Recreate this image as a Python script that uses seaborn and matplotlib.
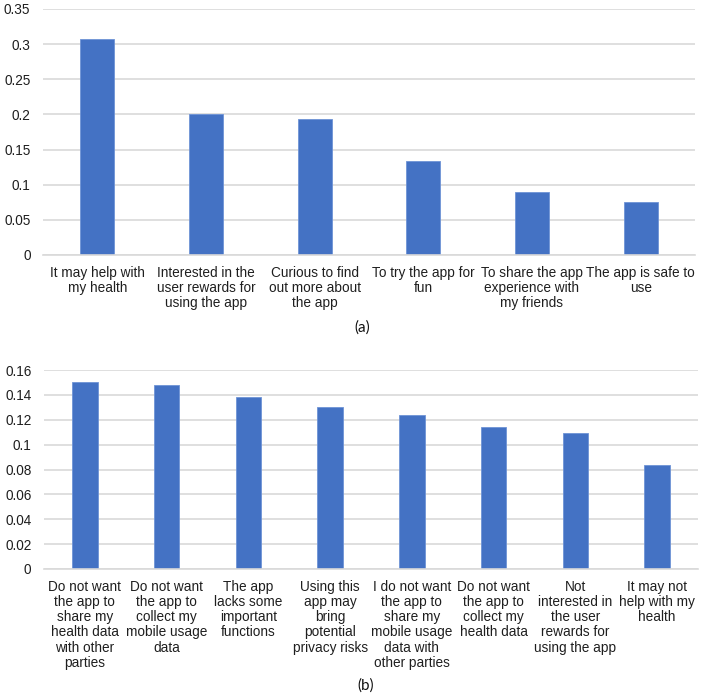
import matplotlib
matplotlib.use("Agg")
import matplotlib.pyplot as plt
import seaborn as sns
import pandas as pd

sns.set_theme(style="white")
plt.rcParams['font.family'] = ['Liberation Sans', 'DejaVu Sans']

cats_a = ["It may help with\nmy health",
          "Interested in the\nuser rewards for\nusing the app",
          "Curious to find\nout more about\nthe app",
          "To try the app for\nfun",
          "To share the app\nexperience with\nmy friends",
          "The app is safe to\nuse"]
vals_a = [0.308, 0.200, 0.194, 0.134, 0.090, 0.076]
yticks_a = [0, 0.05, 0.1, 0.15, 0.2, 0.25, 0.3, 0.35]
ylabels_a = ["0", "0.05", "0.1", "0.15", "0.2", "0.25", "0.3", "0.35"]

cats_b = ["Do not want\nthe app to\nshare my\nhealth data\nwith other\nparties",
          "Do not want\nthe app to\ncollect my\nmobile usage\ndata",
          "The app\nlacks some\nimportant\nfunctions",
          "Using this\napp may\nbring\npotential\nprivacy risks",
          "I do not want\nthe app to\nshare my\nmobile usage\ndata with\nother parties",
          "Do not want\nthe app to\ncollect my\nhealth data",
          "Not\ninterested in\nthe user\nrewards for\nusing the app",
          "It may not\nhelp with my\nhealth"]
vals_b = [0.150, 0.148, 0.138, 0.130, 0.124, 0.114, 0.109, 0.084]
yticks_b = [0, 0.02, 0.04, 0.06, 0.08, 0.1, 0.12, 0.14, 0.16]
ylabels_b = ["0", "0.02", "0.04", "0.06", "0.08", "0.1", "0.12", "0.14", "0.16"]

BAR = "#4472C4"
GRID = "#D9D9D9"
TXT = "#1F1F1F"

fig = plt.figure(figsize=(7.06, 6.95), dpi=100)
ax1 = fig.add_axes([43/706, 1-255/695, (695-43)/706, (255-9)/695])
ax2 = fig.add_axes([44/706, 1-569/695, (698-44)/706, (569-370)/695])

def style(ax, cats, vals, yt, yl, top):
    df = pd.DataFrame({"cat": cats, "val": vals})
    sns.barplot(data=df, x="cat", y="val", color=BAR, width=0.31, ax=ax,
                saturation=1, edgecolor="#6E93D6", linewidth=0.6)
    ax.set_ylim(0, top)
    ax.set_yticks(yt)
    ax.set_yticklabels(yl)
    ax.set_xlabel("")
    ax.set_ylabel("")
    ax.yaxis.grid(True, color=GRID, linewidth=1.2)
    ax.set_axisbelow(True)
    for s in ["top", "right", "left"]:
        ax.spines[s].set_visible(False)
    ax.spines["bottom"].set_color(GRID)
    ax.spines["bottom"].set_linewidth(1.2)
    ax.tick_params(axis="both", length=0, labelsize=9.8, colors=TXT)
    ax.tick_params(axis="y", pad=9)
    ax.tick_params(axis="x", pad=8)
    for t in ax.get_xticklabels():
        t.set_linespacing(1.1)
        t.set_ha("center")

style(ax1, cats_a, vals_a, yticks_a, ylabels_a, 0.35)
style(ax2, cats_b, vals_b, yticks_b, ylabels_b, 0.16)

fig.text(362/706, 1-328/695, "(a)", ha="center", va="center", fontsize=11,
         family=["Lato", "DejaVu Sans"], color="#111111")
fig.text(366/706, 1-686/695, "(b)", ha="center", va="center", fontsize=11,
         family=["Lato", "DejaVu Sans"], color="#111111")

fig.savefig("out.png", dpi=100)
